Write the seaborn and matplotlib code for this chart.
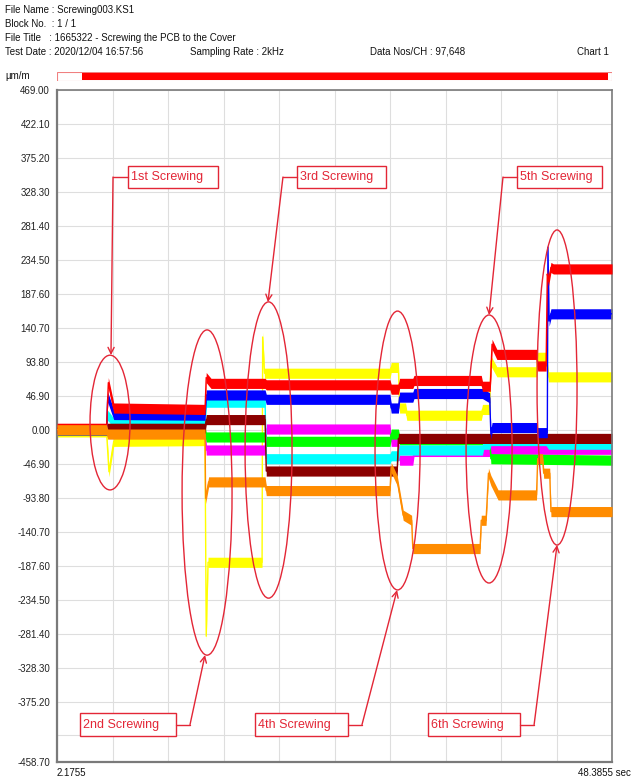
import numpy as np
import pandas as pd
import matplotlib
matplotlib.use("Agg")
import matplotlib.pyplot as plt
import seaborn as sns
from matplotlib.patches import Ellipse, Rectangle

sns.set_theme(style="white")
plt.rcParams["font.family"] = ["Liberation Sans", "DejaVu Sans"]

# ---------------------------------------------------------------- channels
# Each channel is a polyline of (time [s], strain [µm/m]) vertices.
red_t = [2.18, 6.3, 6.45, 6.9, 14.5, 14.6, 15.0, 19.5, 19.6, 29.9, 30.0, 30.6, 30.7, 31.8, 31.9,
         37.5, 37.6, 38.25, 38.4, 38.8, 42.1, 42.2, 42.9, 43.0, 43.1, 43.3, 43.5, 48.39]
red_v = [2, 2, 65, 30, 28, 72, 64, 64, 62, 62, 56, 56, 64, 64, 68,
         68, 60, 60, 118, 104, 104, 88, 88, 215, 205, 224, 222, 222]

blue_t = [2.18, 6.3, 6.4, 6.9, 14.5, 14.6, 19.5, 19.6, 29.9, 30.0, 30.6, 30.7, 31.8, 31.9,
          37.6, 38.2, 38.3, 38.4, 42.1, 42.2, 43.0, 43.05, 43.15, 43.3, 48.39]
blue_v = [0, 0, 45, 21, 20, 48, 48, 42, 42, 30, 30, 45, 45, 50,
          50, 44, -6, 3, 3, -4, -4, 252, 150, 160, 160]

cyan_t = [2.18, 6.3, 6.4, 6.9, 12.2, 12.4, 12.6, 14.5, 14.6, 19.5, 19.6, 29.9, 30.0, 30.6, 30.7,
          37.6, 37.7, 38.2, 38.3, 42.9, 43.1, 48.39]
cyan_v = [0, 0, 20, 9, 8, 16, 8, 8, 38, 38, -40, -40, -36, -36, -28,
          -28, -20, -20, -15, -15, -20, -20]

maroon_t = [2.18, 6.3, 6.4, 14.5, 14.6, 19.5, 19.6, 30.5, 30.6, 48.39]
maroon_v = [0, 0, 2, 2, 14, 14, -57, -57, -12, -12]

green_t = [2.18, 6.3, 6.4, 14.5, 14.6, 19.5, 19.6, 29.9, 30.0, 30.6, 30.7, 38.2, 38.3, 48.39]
green_v = [0, 0, -2, -2, -10, -10, -16, -16, -6, -6, -14, -14, -40, -42]

magenta_t = [2.18, 6.3, 6.4, 14.5, 14.6, 19.5, 19.6, 29.9, 30.0, 30.6, 30.7, 31.8, 31.9,
             38.2, 38.3, 48.39]
magenta_v = [0, 0, -3, -3, -28, -28, 1, 1, -16, -16, -42, -42, -30,
             -30, -27, -27]

orange_t = [2.18, 6.3, 6.4, 14.5, 14.55, 14.8, 19.5, 19.6, 29.9, 30.0, 30.5, 31.0, 31.7, 31.8,
            37.4, 37.5, 37.9, 38.1, 38.3, 38.9, 42.1, 42.2, 42.6, 42.7, 43.2, 43.3, 48.39]
orange_v = [0, 0, -6, -6, -95, -72, -72, -84, -84, -52, -70, -118, -125, -164,
            -164, -125, -125, -60, -70, -90, -90, -40, -40, -60, -60, -113, -113]

yellow_t = [2.18, 6.3, 6.5, 6.9, 14.5, 14.6, 14.75, 19.25, 19.3, 19.45, 29.9, 30.0, 30.6, 30.7,
            31.2, 31.3, 37.5, 37.6, 38.2, 38.3, 38.8, 42.1, 42.2, 42.9, 43.1, 48.39]
yellow_v = [-3, -3, -58, -16, -15, -285, -183, -183, 128, 78, 78, 86, 86, 30,
            30, 20, 20, 28, 28, 95, 80, 80, 100, 100, 73, 73]

channel_names = ["yellow", "magenta", "green", "cyan", "maroon", "blue", "red", "orange"]
channel_colors = ["#ffff00", "#ff00ff", "#00ff00", "#00ffff", "#8b0000", "#0000ff", "#ff0000", "#ff8c00"]
channel_times = [yellow_t, magenta_t, green_t, cyan_t, maroon_t, blue_t, red_t, orange_t]
channel_values = [yellow_v, magenta_v, green_v, cyan_v, maroon_v, blue_v, red_v, orange_v]

# ---------------------------------------------------------------- axes
t_start, t_end = 2.1755, 48.3855
y_min, y_max = -458.70, 469.00
y_ticks = [469.00, 422.10, 375.20, 328.30, 281.40, 234.50, 187.60, 140.70, 93.80, 46.90, 0.00,
           -46.90, -93.80, -140.70, -187.60, -234.50, -281.40, -328.30, -375.20, -422.10, -458.70]
y_tick_labels = ["469.00", "422.10", "375.20", "328.30", "281.40", "234.50", "187.60", "140.70",
                 "93.80", "46.90", "0.00", "-46.90", "-93.80", "-140.70", "-187.60", "-234.50",
                 "-281.40", "-328.30", "-375.20", "", "-458.70"]

# screwing events: ellipse (centre t, centre v, width s, height µm/m)
ell_t = [6.59, 14.67, 19.79, 30.53, 38.15, 43.81]
ell_v = [9.9, -86.7, -28.0, -28.7, -26.6, 58.3]
ell_w = [3.33, 4.16, 3.91, 3.75, 3.83, 3.33]
ell_h = [186, 449, 409, 385, 370, 435]

# callout boxes: label, box left/right t, box bottom/top v, elbow t, arrow tip (t, v)
box_labels = ["1st Screwing", "2nd Screwing", "3rd Screwing", "4th Screwing", "5th Screwing", "6th Screwing"]
box_left = [8.08, 4.09, 22.16, 18.66, 40.48, 33.07]
box_right = [15.57, 12.08, 29.57, 26.40, 47.55, 40.73]
box_bottom = [333.7, -423.0, 333.7, -423.0, 333.7, -423.0]
box_top = [364.0, -391.2, 364.0, -391.2, 364.0, -391.2]
elbow_t = [6.84, 13.25, 20.99, 27.57, 39.31, 41.90]
tip_t = [6.67, 14.50, 19.74, 30.49, 38.15, 43.81]
tip_v = [103.1, -311.0, 176.2, -221.3, 158.3, -159.0]

ann_color = "#e32636"

frames = []
for name, ts, vs in zip(channel_names, channel_times, channel_values):
    frames.append(pd.DataFrame({"channel": name, "time": ts, "strain": vs}))
df = pd.concat(frames, ignore_index=True)

W, H = 631, 784
fig = plt.figure(figsize=(W / 100, H / 100), dpi=100)
ax = fig.add_axes([57 / W, 1 - 762 / H, 555 / W, 672 / H])

band = 7.0
for i, (name, col) in enumerate(zip(channel_names, channel_colors)):
    sub = df[df["channel"] == name]
    z = 2 + i * 0.1
    ax.fill_between(sub["time"], sub["strain"] - band, sub["strain"] + band,
                    color=col, lw=0, zorder=z)
    sns.lineplot(data=sub, x="time", y="strain", color=col, lw=1.0, estimator=None,
                 sort=False, ax=ax, legend=False, zorder=z + 0.05)

ax.set_xlim(t_start, t_end)
ax.set_ylim(y_min, y_max)
ax.set_xticks(np.linspace(t_start, t_end, 11))
ax.set_xticklabels([])
ax.set_yticks(y_ticks)
ax.set_yticklabels(y_tick_labels, fontsize=7, color="#222222")
ax.tick_params(axis="both", length=0, pad=5)
ax.set_xlabel("")
ax.set_ylabel("")
ax.grid(True, color="#dedede", lw=0.8)
ax.set_axisbelow(True)
for s in ax.spines.values():
    s.set_color("#7a7a7a")
    s.set_linewidth(1.2)
ax.spines["bottom"].set_linewidth(1.6)
ax.spines["left"].set_linewidth(1.6)

# screwing ellipses
for t, v, w, h in zip(ell_t, ell_v, ell_w, ell_h):
    ax.add_patch(Ellipse((t, v), w, h, fill=False, edgecolor=ann_color, lw=1.0, zorder=6))

# callouts
for lab, l, r, b, tp, et, xt, yv in zip(box_labels, box_left, box_right, box_bottom, box_top,
                                         elbow_t, tip_t, tip_v):
    mid = (b + tp) / 2
    ax.add_patch(Rectangle((l, b), r - l, tp - b, facecolor="white", edgecolor=ann_color,
                           lw=1.0, zorder=7))
    ax.text(l + 0.25, mid, lab, color=ann_color, fontsize=9, ha="left", va="center", zorder=8)
    edge = l if et < l else r
    ax.plot([edge, et], [mid, mid], color=ann_color, lw=1.0, zorder=7)
    ax.annotate("", xy=(xt, yv), xytext=(et, mid),
                arrowprops=dict(arrowstyle="->", color=ann_color, lw=1.0,
                                shrinkA=0, shrinkB=0, mutation_scale=11), zorder=7)

# header block
def fig_text(x, y, s, **kw):
    fig.text(x / W, 1 - y / H, s, fontsize=7, color="#111111", va="center", **kw)

fig_text(5, 10, "File Name : Screwing003.KS1")
fig_text(5, 24, "Block No.  : 1 / 1")
fig_text(5, 38, "File Title   : 1665322 - Screwing the PCB to the Cover")
fig_text(5, 52, "Test Date : 2020/12/04 16:57:56")
fig_text(190, 52, "Sampling Rate : 2kHz")
fig_text(370, 52, "Data Nos/CH : 97,648")
fig_text(609, 52, "Chart 1", ha="right")
fig_text(5, 76, "µm/m")
fig_text(57, 773, "2.1755")
fig_text(631, 773, "48.3855 sec", ha="right")

# record position bar
bar_ax = fig.add_axes([57 / W, 1 - 81 / H, 555 / W, 9 / H])
bar_ax.set_xlim(t_start, t_end)
bar_ax.set_ylim(0, 1)
bar_ax.axis("off")
bar_ax.add_patch(Rectangle((t_start, 0.05), t_end - t_start, 0.9, facecolor="white",
                           edgecolor="#f08080", lw=0.8))
bar_ax.add_patch(Rectangle((4.25, 0.1), 48.05 - 4.25, 0.8, facecolor="#ff0000", lw=0))

fig.savefig("out.png", dpi=100)
